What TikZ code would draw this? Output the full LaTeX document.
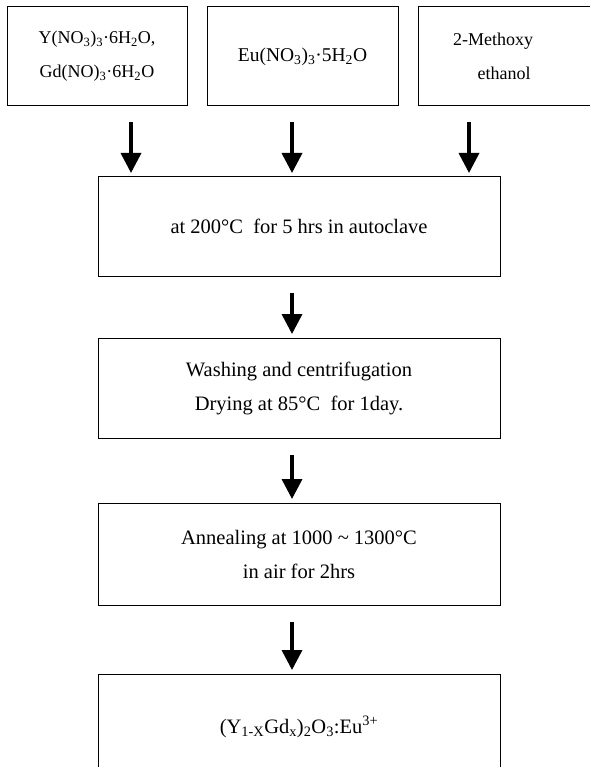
\documentclass[tikz,border=0pt]{standalone}
\usepackage{fontspec}
\setmainfont{Liberation Serif}
\usetikzlibrary{arrows.meta}

\tikzset{
  stage/.style={draw, line width=1pt, inner sep=0pt, align=center,
    font=\fontsize{20.5}{34}\selectfont},
  source/.style={stage, minimum height=99pt, font=\fontsize{18}{34}\selectfont},
  flow/.style={line width=3.5pt, -{Triangle[length=20pt,width=20pt]},
    shorten <=16pt, shorten >=3.5pt}
}

\begin{document}
\begin{tikzpicture}[x=1pt,y=-1pt]
  \useasboundingbox (0,0) rectangle (589,767);
  % starting materials
  \node[source, minimum width=180pt] (nitY) at (97,56.5)
    {Y(NO\textsubscript{3})\textsubscript{3}·6H\textsubscript{2}O,\\
     Gd(NO)\textsubscript{3}·6H\textsubscript{2}O};
  \node[source, minimum width=191pt, font=\fontsize{19.5}{34}\selectfont] (nitEu) at (302.5,56.5)
    {Eu(NO\textsubscript{3})\textsubscript{3}·5H\textsubscript{2}O};
  \node[source, minimum width=172pt] (solv) at (504,56.5)
    {2-Methoxy\hspace*{22pt}\\ethanol};
  % process steps
  \node[stage, minimum width=402pt, minimum height=99pt] (heat) at (299,226.5)
    {at 200°C\ \ for 5 hrs in autoclave};
  \node[stage, minimum width=402pt, minimum height=100pt] (wash) at (299,388)
    {Washing and centrifugation\\Drying at 85°C\ \ for 1day.};
  \node[stage, minimum width=402pt, minimum height=102pt] (anneal) at (299,554)
    {Annealing at 1000 \textasciitilde{} 1300°C\\in air for 2hrs};
  \node[stage, minimum width=402pt, minimum height=106pt] (prod) at (299,727)
    {(Y\textsubscript{1-X}Gd\textsubscript{x})\textsubscript{2}O\textsubscript{3}:Eu\textsuperscript{3+}};
  % arrows
  \foreach \src/\x in {nitY/131, nitEu/292, solv/469}
    {\coordinate (a) at (\x,0); \draw[flow] (\src.south -| a) -- (heat.north -| a);}
  \coordinate (col) at (292,0);
  \foreach \a/\b in {heat/wash, wash/anneal, anneal/prod}
    \draw[flow] (\a.south -| col) -- (\b.north -| col);
\end{tikzpicture}
\end{document}
